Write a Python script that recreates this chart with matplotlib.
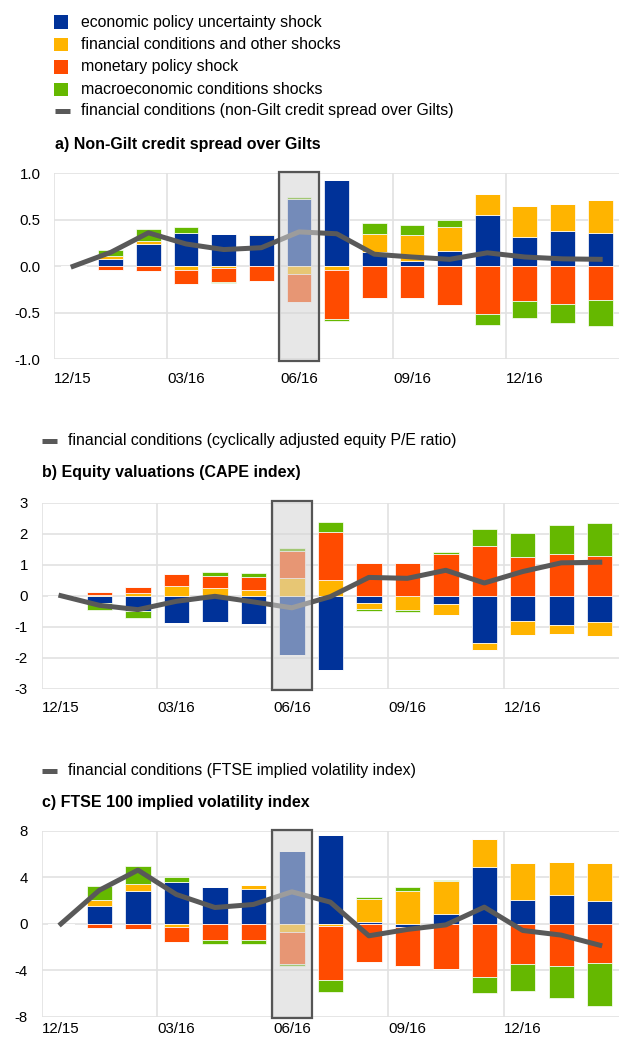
#!/usr/bin/env python3

import matplotlib
matplotlib.use('Agg')
import matplotlib.pyplot as plt
import matplotlib.patches as mpatches
import matplotlib.lines as mlines
import numpy as np

# months, Dec 2015 to Feb 2017
months = ['12/15', '01/16', '02/16', '03/16', '04/16', '05/16', '06/16', '07/16',
          '08/16', '09/16', '10/16', '11/16', '12/16', '01/17', '02/17']
tick_pos = [0, 3, 6, 9, 12]
tick_labels = ['12/15', '03/16', '06/16', '09/16', '12/16']

shock_names = ['economic policy uncertainty shock',
               'financial conditions and other shocks',
               'monetary policy shock',
               'macroeconomic conditions shocks']

# a) non-Gilt credit spread over Gilts
a_policy = [0, 0.08, 0.245, 0.36, 0.345, 0.34, 0.725, 0.925, 0.155, 0.055, 0.165, 0.55, 0.31, 0.375, 0.36]
a_fincond = [0, 0.03, 0.03, -0.04, -0.02, 0.01, -0.085, -0.035, 0.195, 0.28, 0.26, 0.225, 0.34, 0.30, 0.35]
a_monetary = [0, -0.045, -0.05, -0.15, -0.145, -0.16, -0.295, -0.53, -0.34, -0.345, -0.42, -0.515, -0.375, -0.40, -0.365]
a_macro = [0, 0.07, 0.13, 0.06, -0.01, 0.0, 0.025, -0.025, 0.12, 0.11, 0.07, -0.12, -0.185, -0.21, -0.275]
a_line = [0, 0.15, 0.36, 0.24, 0.18, 0.20, 0.37, 0.35, 0.13, 0.10, 0.075, 0.145, 0.10, 0.08, 0.075]

# b) equity valuations (CAPE index)
b_policy = [0, -0.24, -0.5, -0.88, -0.84, -0.92, -1.92, -2.41, -0.25, 0.0, -0.28, -1.54, -0.81, -0.93, -0.85]
b_fincond = [0, 0.02, 0.09, 0.30, 0.26, 0.20, 0.56, 0.52, -0.19, -0.46, -0.33, -0.20, -0.45, -0.30, -0.44]
b_monetary = [0, 0.10, 0.19, 0.40, 0.36, 0.39, 0.88, 1.53, 1.05, 1.05, 1.34, 1.60, 1.26, 1.34, 1.27]
b_macro = [0, -0.23, -0.23, 0.0, 0.15, 0.13, 0.11, 0.32, -0.05, -0.08, 0.06, 0.55, 0.77, 0.95, 1.09]
b_line = [0, -0.31, -0.45, -0.18, -0.02, -0.20, -0.39, -0.03, 0.59, 0.56, 0.82, 0.41, 0.78, 1.06, 1.08]

# c) FTSE 100 implied volatility index
c_policy = [0, 1.55, 2.79, 3.59, 3.16, 3.02, 6.29, 7.67, 0.2, -0.26, 0.86, 4.89, 2.02, 2.47, 1.96]
c_fincond = [0, 0.47, 0.63, -0.28, -0.05, 0.32, -0.74, -0.17, 1.9, 2.85, 2.85, 2.44, 3.18, 2.88, 3.27]
c_monetary = [0, -0.4, -0.48, -1.30, -1.30, -1.39, -2.68, -4.71, -3.3, -3.36, -3.85, -4.57, -3.47, -3.67, -3.39]
c_macro = [0, 1.2, 1.55, 0.44, -0.40, -0.33, -0.17, -1.01, 0.2, 0.34, 0.06, -1.40, -2.33, -2.73, -3.68]
c_line = [0, 2.9, 4.63, 2.53, 1.41, 1.67, 2.76, 1.87, -1.03, -0.48, -0.09, 1.44, -0.57, -0.97, -1.84]

COLORS = ['#003299', '#FFB400', '#FF4B00', '#65B800']
LINE_COLOR = '#595959'
GRID_COLOR = '#e2e2e2'

W, H = 619, 1041

plt.rcParams['font.family'] = ['Liberation Sans', 'DejaVu Sans']
plt.rcParams['axes.unicode_minus'] = False

fig = plt.figure(figsize=(W / 100, H / 100), dpi=100)


def fx(px):
    return px / W


def fy(py):
    return 1 - py / H


def draw_panel(rect, series, line, ylim, yticks, yfmt, xpad=9):
    ax = fig.add_axes(rect)
    x = np.arange(len(months))
    pos_base = np.zeros(len(months))
    neg_base = np.zeros(len(months))
    # stacked bars, positives up and negatives down
    for vals, col in zip(series, COLORS):
        vals = np.array(vals, dtype=float)
        pos = np.where(vals > 0, vals, 0)
        neg = np.where(vals < 0, vals, 0)
        ax.bar(x, pos, 0.66, bottom=pos_base, color=col, edgecolor='white', linewidth=0.5, zorder=2)
        ax.bar(x, neg, 0.66, bottom=neg_base, color=col, edgecolor='white', linewidth=0.5, zorder=2)
        pos_base += pos
        neg_base += neg
    ax.plot(x, line, color=LINE_COLOR, lw=3.6, solid_joinstyle='round', zorder=3)

    # referendum month highlight box
    span = ylim[1] - ylim[0]
    box = mpatches.Rectangle((5.48, ylim[0] - span * 0.008), 1.05, span * 1.016,
                             facecolor=(0.835, 0.835, 0.835, 0.55), edgecolor='#555555',
                             linewidth=1.6, zorder=4, clip_on=False)
    ax.add_patch(box)

    ax.set_xlim(-0.5, 14.5)
    ax.set_ylim(*ylim)
    ax.set_yticks(yticks)
    ax.set_yticklabels([yfmt.format(t) for t in yticks])
    ax.set_xticks(tick_pos)
    ax.set_xticklabels(tick_labels)
    ax.set_xticks([-0.5, 2.5, 5.5, 8.5, 11.5], minor=True)
    ax.tick_params(which='both', length=0, labelsize=10.8, colors='black')
    ax.tick_params(axis='y', pad=10)
    ax.tick_params(axis='x', pad=xpad)
    ax.grid(True, axis='y', which='major', color=GRID_COLOR, lw=1.2, zorder=0)
    ax.grid(True, axis='x', which='minor', color=GRID_COLOR, lw=1.2, zorder=0)
    ax.set_axisbelow(True)
    for s in ax.spines.values():
        s.set_visible(False)
    return ax


def legend_line(x, y, text):
    fig.add_artist(mlines.Line2D([fx(x), fx(x + 15)], [fy(y), fy(y)], color=LINE_COLOR,
                                 lw=3.6, solid_capstyle='butt', transform=fig.transFigure))
    fig.text(fx(x + 26), fy(y), text, fontsize=11.4, va='center', ha='left')


# top legend (shared by the three panels)
for i, (name, col) in enumerate(zip(shock_names, COLORS)):
    yc = 22 + i * 22.5
    fig.add_artist(mpatches.Rectangle((fx(54), fy(yc + 6.5)), fx(14) , 13 / H,
                                      facecolor=col, edgecolor='none', transform=fig.transFigure))
    fig.text(fx(81), fy(yc), name, fontsize=11.4, va='center', ha='left')
legend_line(55, 111, '')
fig.text(fx(81), fy(111), 'financial conditions (non-Gilt credit spread over Gilts)',
         fontsize=11.4, va='center', ha='left')

fig.text(fx(55), fy(145), 'a) Non-Gilt credit spread over Gilts', fontsize=11.5,
         fontweight='bold', va='center', ha='left')
draw_panel([fx(54.3), fy(359.3), 1 - fx(54.3), (359.3 - 173.3) / H],
           [a_policy, a_fincond, a_monetary, a_macro], a_line,
           (-1.0, 1.0), [-1.0, -0.5, 0.0, 0.5, 1.0], '{:.1f}')

legend_line(42, 441, 'financial conditions (cyclically adjusted equity P/E ratio)')
fig.text(fx(42), fy(473), 'b) Equity valuations (CAPE index)', fontsize=11.5,
         fontweight='bold', va='center', ha='left')
draw_panel([fx(41.7), fy(688.7), 1 - fx(41.7), (688.7 - 502.7) / H],
           [b_policy, b_fincond, b_monetary, b_macro], b_line,
           (-3, 3), [-3, -2, -1, 0, 1, 2, 3], '{:d}')

legend_line(42, 771, 'financial conditions (FTSE implied volatility index)')
fig.text(fx(42), fy(803), 'c) FTSE 100 implied volatility index', fontsize=11.5,
         fontweight='bold', va='center', ha='left')
draw_panel([fx(41.7), fy(1016.7), 1 - fx(41.7), (1016.7 - 831) / H],
           [c_policy, c_fincond, c_monetary, c_macro], c_line,
           (-8, 8), [-8, -4, 0, 4, 8], '{:d}', xpad=4)

fig.savefig('out.png', dpi=100)
